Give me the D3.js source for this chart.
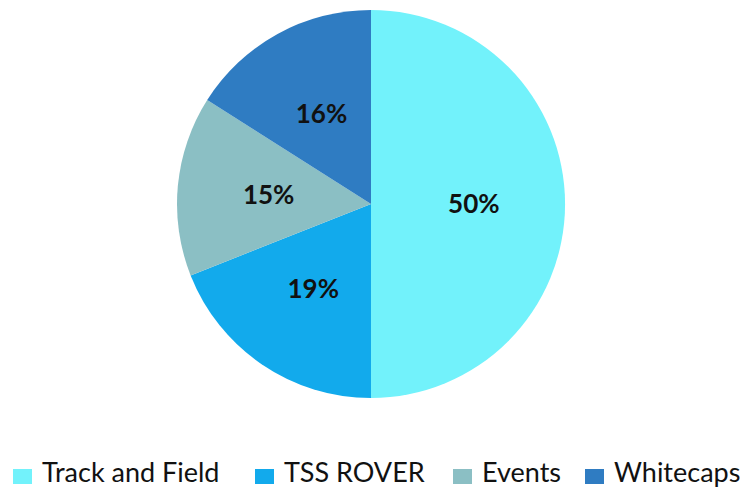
<!DOCTYPE html>
<html><head><meta charset="utf-8">
<script src="https://cdn.jsdelivr.net/npm/d3@7"></script>
<style>body{margin:0;background:#fff}svg{display:block}</style>
</head><body>
<script>
const categories = ["Track and Field", "TSS ROVER", "Events", "Whitecaps"];
const values = [50, 19, 15, 16];
const colors = ["#72f2fb", "#12aaec", "#8bbfc4", "#2f7cc2"];

const W = 756, H = 490, cx = 371, cy = 204, R = 194;
const svg = d3.select("body").append("svg").attr("width", W).attr("height", H);
const data = categories.map((c, i) => ({c, v: values[i], col: colors[i]}));
const pie = d3.pie().value(d => d.v).sort(null);
const arc = d3.arc().innerRadius(0).outerRadius(R);
const labelArc = d3.arc().innerRadius(R * 0.53).outerRadius(R * 0.53);
const g = svg.append("g").attr("transform", `translate(${cx},${cy})`);
const arcs = pie(data);
g.selectAll("path").data(arcs).join("path").attr("d", arc).attr("fill", d => d.data.col);
g.selectAll("text").data(arcs).join("text")
  .attr("transform", d => `translate(${labelArc.centroid(d)})`)
  .attr("text-anchor", "middle").attr("dy", "0.36em")
  .style("font-family", "Lato, sans-serif").style("font-weight", "bold").style("font-size", "26px")
  .attr("fill", "#111")
  .text(d => Math.round(d.data.v / d3.sum(values) * 100) + "%");

const leg = svg.append("g");
const xs = [13, 255, 453, 585];
data.forEach((d, i) => {
  const it = leg.append("g").attr("transform", `translate(${xs[i]},0)`);
  it.append("rect").attr("x", 0).attr("y", 469).attr("width", 19).attr("height", 15).attr("fill", d.col);
  it.append("text").attr("x", 29).attr("y", 482)
    .style("font-family", "Lato, sans-serif").style("font-size", "27px").attr("fill", "#111")
    .text(d.c);
});
</script>
</body></html>
